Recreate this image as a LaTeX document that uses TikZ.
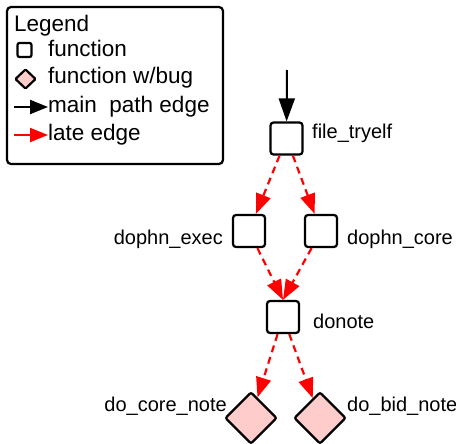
\documentclass[tikz,border=0pt]{standalone}
\usepackage{fontspec}
\setmainfont{Liberation Sans}
\usetikzlibrary{shapes.geometric,arrows.meta}
\definecolor{bugpink}{RGB}{255,204,204}

\begin{document}
\begin{tikzpicture}[x=1pt,y=-1pt]
			\tikzset{
			  FuncStyle/.style = { draw, line width=2.2pt, rectangle, rounded corners=3pt,
			                       minimum size=32pt, inner sep=0pt },
			  BugStyle/.style = { draw, line width=2.2pt, diamond, rounded corners=2pt,
			                      fill=bugpink, minimum width=52pt, minimum height=52pt, inner sep=0pt },
			  LabelStyle/.style = { inner sep=0pt, font=\fontsize{20}{24}\selectfont },
			  KeyStyle/.style = { inner sep=0pt, font=\fontsize{22.5}{26}\selectfont },
			  MainEdge/.style = { line width=2pt, -{Triangle[length=23pt,width=16pt]} },
			  LateEdge/.style = { line width=2.2pt, red, dash pattern=on 7pt off 5pt,
			                      -{Triangle[length=20pt,width=15pt]} } }
			\useasboundingbox (0,0) rectangle (456,444);
			% legend
			\node[draw, line width=2.2pt, rounded corners=4pt, minimum width=216pt,
			      minimum height=157pt, inner sep=0pt] (legend) at (115,85.5) {};
			\node[KeyStyle, anchor=base west] (keytitle) at (14,32) {Legend};
			\node[FuncStyle, minimum size=14pt, rounded corners=2pt] (keyfunc) at (24.5,50) {};
			\node[KeyStyle, anchor=base west] (keyfunctext) at (48,57) {function};
			\node[BugStyle, minimum width=21pt, minimum height=20pt, rounded corners=1pt] (keybug) at (25.5,79) {};
			\node[KeyStyle, anchor=base west] (keybugtext) at (48,84) {function w/bug};
			\coordinate (mainfrom) at (14,107);
			\coordinate (mainto) at (48,107);
			\draw[line width=2pt, -{Triangle[length=18pt,width=14pt]}] (mainfrom) -- (mainto);
			\node[KeyStyle, anchor=base west] (keymaintext) at (48,113) {main\ \ path edge};
			\coordinate (latefrom) at (14,135);
			\coordinate (lateto) at (48,135);
			\draw[line width=2pt, red, -{Triangle[length=18pt,width=14pt]}] (latefrom) -- (lateto);
			\node[KeyStyle, anchor=base west] (keylatetext) at (48,141) {late edge};
			% graph
			\coordinate (entry) at (287,70);
			\node[FuncStyle] (file_tryelf) at (286.5,138.5) {};
			\node[FuncStyle] (dophn_exec) at (249,231) {};
			\node[FuncStyle] (dophn_core) at (321,231) {};
			\node[FuncStyle] (donote) at (283,317) {};
			\node[BugStyle] (do_core_note) at (251,418) {};
			\node[BugStyle] (do_bid_note) at (320,418) {};
			\node[LabelStyle, anchor=base west] at (312,139) {file\_tryelf};
			\node[LabelStyle, anchor=base east] at (223,244) {dophn\_exec};
			\node[LabelStyle, anchor=base west] at (347,244) {dophn\_core};
			\node[LabelStyle, anchor=base west] at (313,328) {donote};
			\node[LabelStyle, anchor=base east] at (227,411) {do\_core\_note};
			\node[LabelStyle, anchor=base west] at (347,411) {do\_bid\_note};
			\draw[MainEdge] (entry) -- (file_tryelf);
			\draw[LateEdge] (file_tryelf) -- (dophn_exec);
			\draw[LateEdge] (file_tryelf) -- (dophn_core);
			\draw[LateEdge] (dophn_exec) -- (donote.north);
			\draw[LateEdge] (dophn_core) -- (donote.north);
			\draw[LateEdge] (donote) -- (do_core_note);
			\draw[LateEdge] (donote) -- (do_bid_note);
		\end{tikzpicture}
\end{document}
